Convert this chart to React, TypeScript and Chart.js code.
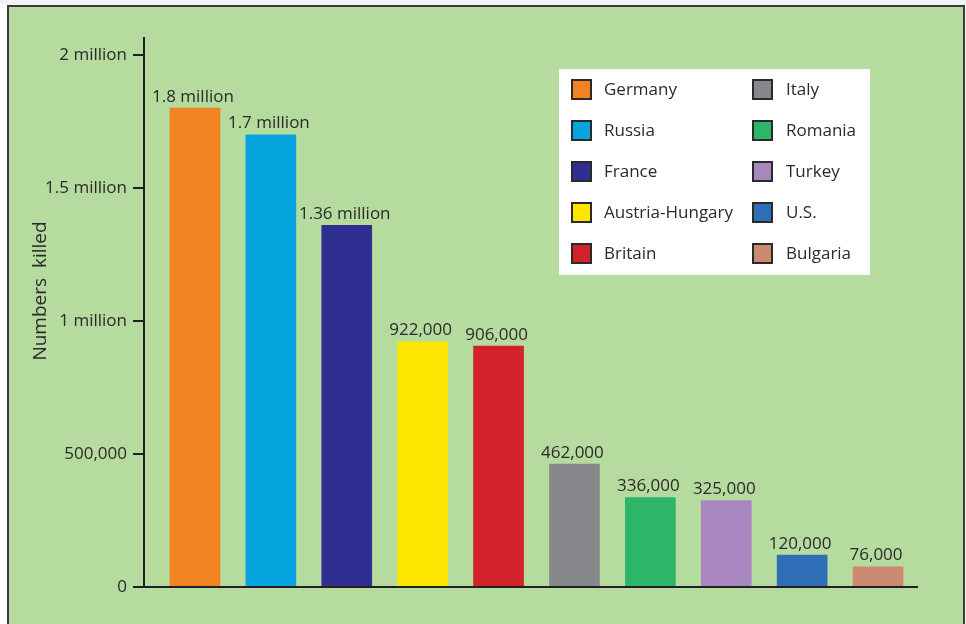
import { useEffect, useRef } from "react";
import { Chart, registerables } from "chart.js";

Chart.register(...registerables);

const countries = [
  "Germany",
  "Russia",
  "France",
  "Austria-Hungary",
  "Britain",
  "Italy",
  "Romania",
  "Turkey",
  "U.S.",
  "Bulgaria",
];
const deaths = [1800000, 1700000, 1360000, 922000, 906000, 462000, 336000, 325000, 120000, 76000];
const valueLabels = [
  "1.8 million",
  "1.7 million",
  "1.36 million",
  "922,000",
  "906,000",
  "462,000",
  "336,000",
  "325,000",
  "120,000",
  "76,000",
];
const barColors = [
  "#f28322",
  "#06a5df",
  "#2e2f90",
  "#ffe600",
  "#d2232b",
  "#87888b",
  "#2db56a",
  "#a887c0",
  "#2e6fb7",
  "#cc8a72",
];
const yTickValues = [0, 500000, 1000000, 1500000, 2000000];
const yTickLabels = ["0", "500,000", "1 million", "1.5 million", "2 million"];
const yTitle = "Numbers  killed";

const FONT = '"Open Sans", "Liberation Sans", Arial, sans-serif';
const INK = "#2a2a2a";

const decor = {
  id: "decor",
  beforeDraw(chart: any) {
    const ctx = chart.ctx;
    ctx.save();
    ctx.fillStyle = "#f2f2f2";
    ctx.fillRect(0, 0, chart.width, chart.height);
    ctx.fillStyle = "#ffffff";
    ctx.fillRect(0, 4, 7, chart.height);
    ctx.fillStyle = "#3a3a3a";
    ctx.fillRect(7, 5, 958, 700);
    ctx.fillStyle = "#b6db9f";
    ctx.fillRect(9, 7, 954, 700);
    ctx.restore();
  },
  afterDatasetsDraw(chart: any) {
    const ctx = chart.ctx;
    const y = chart.scales.y;
    const area = chart.chartArea;
    const axisX = 144;
    const zeroY = y.getPixelForValue(0);
    ctx.save();
    // axes
    ctx.strokeStyle = "#231f20";
    ctx.lineWidth = 2;
    ctx.beginPath();
    ctx.moveTo(axisX, area.top - 18);
    ctx.lineTo(axisX, zeroY);
    ctx.lineTo(area.right + 2, zeroY);
    yTickValues.forEach((v) => {
      const py = y.getPixelForValue(v);
      ctx.moveTo(axisX - 11, py);
      ctx.lineTo(axisX, py);
    });
    ctx.stroke();

    ctx.fillStyle = INK;
    ctx.font = `17px ${FONT}`;
    ctx.textAlign = "right";
    ctx.textBaseline = "middle";
    yTickValues.forEach((v, i) => {
      ctx.fillText(yTickLabels[i], 127, y.getPixelForValue(v));
    });

    // y title
    ctx.save();
    ctx.font = `19px ${FONT}`;
    ctx.translate(41, 291);
    ctx.rotate(-Math.PI / 2);
    ctx.textAlign = "center";
    ctx.textBaseline = "middle";
    ctx.fillText(yTitle, 0, 0);
    ctx.restore();

    // value labels
    const meta = chart.getDatasetMeta(0);
    ctx.textAlign = "center";
    ctx.textBaseline = "alphabetic";
    meta.data.forEach((bar: any, i: number) => {
      ctx.fillText(valueLabels[i], bar.x - 2, bar.y - 6.5);
    });

    // legend
    const lx = 559;
    const ly = 69;
    ctx.fillStyle = "#ffffff";
    ctx.fillRect(lx, ly, 311, 206);
    countries.forEach((name, i) => {
      const col = Math.floor(i / 5);
      const row = i % 5;
      const sx = col === 0 ? 572 : 753;
      const cy = 90 + row * 41;
      ctx.fillStyle = "#2a2a2a";
      ctx.fillRect(sx - 1, cy - 11, 21, 21);
      ctx.fillStyle = barColors[i];
      ctx.fillRect(sx + 1, cy - 9, 17, 17);
      ctx.fillStyle = INK;
      ctx.textAlign = "left";
      ctx.textBaseline = "middle";
      ctx.fillText(name, col === 0 ? 604 : 786, cy);
    });
    ctx.restore();
  },
};

export default function App() {
  const ref = useRef<HTMLCanvasElement | null>(null);
  useEffect(() => {
    if (!ref.current) return;
    const chart = new Chart(ref.current, {
      type: "bar",
      data: {
        labels: countries,
        datasets: [
          {
            label: "Numbers killed",
            data: deaths,
            backgroundColor: barColors,
            borderWidth: 0,
            barThickness: 50,
          },
        ],
      },
      options: {
        responsive: false,
        animation: false,
        devicePixelRatio: 1,
        layout: { padding: { left: 157, right: 50, top: 55, bottom: 37 } },
        plugins: { legend: { display: false }, tooltip: { enabled: false } },
        scales: {
          x: { display: false, offset: true, grid: { display: false } },
          y: { display: false, min: 0, max: 2000000 },
        },
      },
      plugins: [decor],
    });
    return () => chart.destroy();
  }, []);
  return (
    <div style={{ position: "absolute", left: 0, top: 0, width: 966, height: 624 }}>
      <canvas ref={ref} width={966} height={624} style={{ width: 966, height: 624, display: "block" }} />
    </div>
  );
}
